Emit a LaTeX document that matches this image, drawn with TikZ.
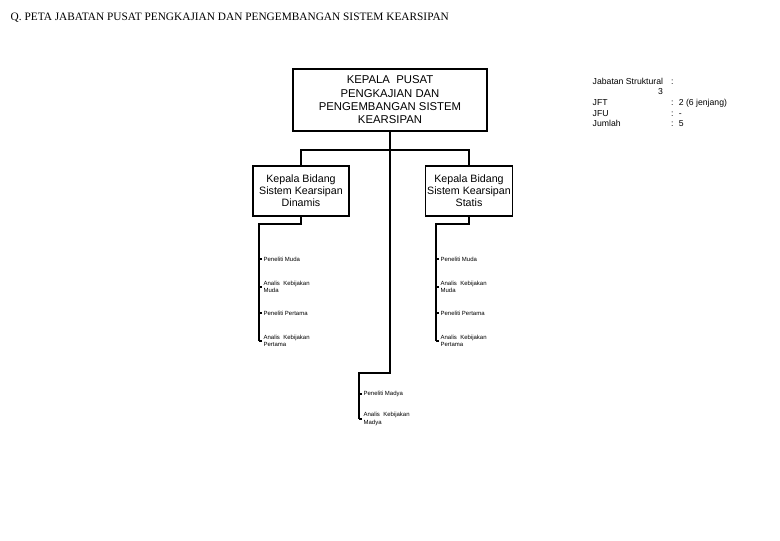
\documentclass[tikz,border=0pt]{standalone}
\usepackage{fontspec}
\setmainfont{Liberation Sans}
\newfontfamily\titlefont{Liberation Serif}
\usetikzlibrary{positioning}

\tikzset{
	unitbox/.style={draw, thick, align=center, font=\fontsize{8}{9}\selectfont, inner sep=1pt},
	jabatan/.style={anchor=west, align=left, font=\fontsize{4.5}{5.5}\selectfont, inner sep=1pt},
	tree/.style={thick},
}

\begin{document}
\begin{tikzpicture}[x=0.75pt, y=-0.75pt]
	\useasboundingbox (0,0) rectangle (780,540);
	\node [anchor=west, font=\titlefont\fontsize{8.5}{10}\selectfont] (title) at (6,18) {Q. PETA JABATAN PUSAT PENGKAJIAN DAN PENGEMBANGAN SISTEM KEARSIPAN};
	% kotak struktural
	\node [unitbox, minimum width=145.5pt, minimum height=46.5pt, font=\fontsize{8.5}{10}\selectfont] (kepala) at (390,100) {KEPALA\ \ PUSAT\\PENGKAJIAN DAN\\PENGEMBANGAN SISTEM\\KEARSIPAN};
	\node [unitbox, minimum width=72pt, minimum height=37.5pt] (dinamis) at (301,191) {Kepala Bidang\\Sistem Kearsipan\\Dinamis};
	\node [unitbox, minimum width=64.5pt, minimum height=37.5pt] (statis) at (469,191) {Kepala Bidang\\Sistem Kearsipan\\Statis};
	\coordinate (cabang) at (390,150);
	\draw [tree] (kepala.south) -- (cabang);
	\draw [tree] (dinamis.north) |- (cabang) -| (statis.north);
	% jabatan fungsional
	\node [jabatan] (pm1) at (262,259) {Peneliti Muda};
	\node [jabatan] (am1) at (262,287) {Analis\ \ Kebijakan\\Muda};
	\node [jabatan] (pp1) at (262,313) {Peneliti Pertama};
	\node [jabatan] (ap1) at (262,341) {Analis\ \ Kebijakan\\Pertama};
	\node [jabatan] (pm2) at (439,259) {Peneliti Muda};
	\node [jabatan] (am2) at (439,287) {Analis\ \ Kebijakan\\Muda};
	\node [jabatan] (pp2) at (439,313) {Peneliti Pertama};
	\node [jabatan] (ap2) at (439,341) {Analis\ \ Kebijakan\\Pertama};
	\node [jabatan] (pmd) at (362,394) {Peneliti Madya};
	\node [jabatan] (amd) at (362,419) {Analis\ \ Kebijakan\\Madya};
	\coordinate (kiri) at (259,224);
	\coordinate (kanan) at (436,224);
	\coordinate (tengah) at (359,373);
	\draw [tree] (dinamis.south) |- (kiri) -- (kiri |- ap1.west);
	\draw [tree] (statis.south) |- (kanan) -- (kanan |- ap2.west);
	\draw [tree] (cabang) -- (390,373) -- (tengah) -- (tengah |- amd.west);
	\foreach \j in {pm1,am1,pp1,ap1} \draw [tree] (kiri |- \j.west) -- (\j.west);
	\foreach \j in {pm2,am2,pp2,ap2} \draw [tree] (kanan |- \j.west) -- (\j.west);
	\foreach \j in {pmd,amd} \draw [tree] (tengah |- \j.west) -- (\j.west);
	% keterangan
	\node [anchor=north west, align=left, font=\fontsize{6.5}{8}\selectfont] (ket) at (588,72)
		{\begin{tabular}{@{}l@{\hspace{6pt}}l@{\hspace{4pt}}l@{}}
		Jabatan Struktural & : & \\
		\multicolumn{1}{r}{3} & & \\
		JFT & : & 2 (6 jenjang)\\
		JFU & : & -\\
		Jumlah & : & 5
		\end{tabular}};
\end{tikzpicture}
\end{document}
